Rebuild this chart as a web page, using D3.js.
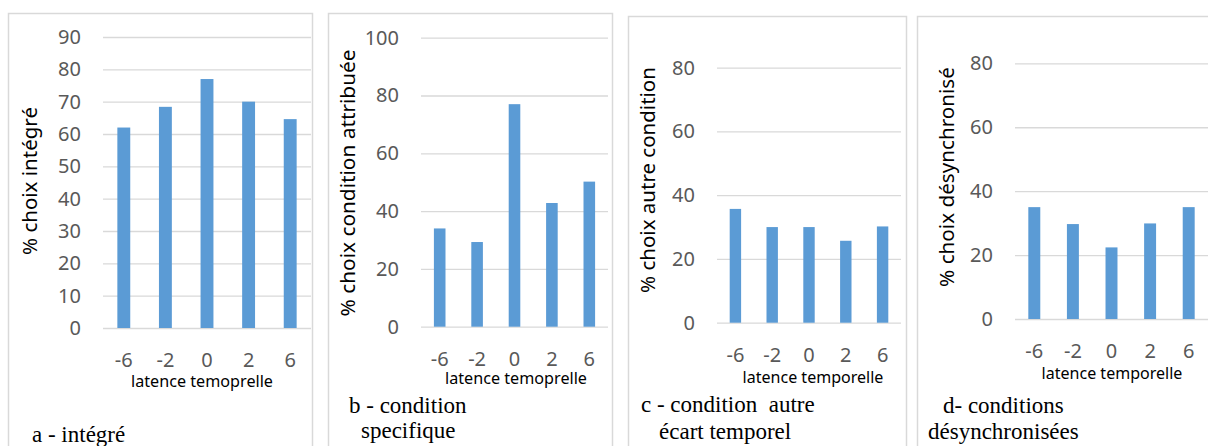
<!DOCTYPE html>
<html>
<head>
<meta charset="utf-8">
<script src="https://cdn.jsdelivr.net/npm/d3@7"></script>
<style>
  html, body { margin: 0; padding: 0; background: #fff; }
  svg { display: block; }
  .y.axis text, .x.axis text { fill: #595959; font-family: "Noto Sans", sans-serif; font-size: 20px; }
</style>
</head>
<body>
<svg width="1208" height="446"></svg>
<script>
// data
const categories = ["-6", "-2", "0", "2", "6"];
const valuesA = [62, 68.4, 77, 70, 64.6];
const valuesB = [34, 29.3, 77, 42.8, 50.2];
const valuesC = [35.7, 30, 30, 25.7, 30.2];
const valuesD = [35, 29.7, 22.4, 29.9, 35];
const ticksA = [0, 10, 20, 30, 40, 50, 60, 70, 80, 90];
const ticksB = [0, 20, 40, 60, 80, 100];
const ticksC = [0, 20, 40, 60, 80];
const ticksD = [0, 20, 40, 60, 80];
const yTitles = ["% choix intégré", "% choix condition attribuée", "% choix autre condition", "% choix désynchronisé"];
const xTitles = ["latence temoprelle", "latence temoprelle", "latence temporelle", "latence temporelle"];
const captions = [["a - intégré"], ["b - condition", "specifique"], ["c - condition  autre", "écart temporel"], ["d- conditions", "désynchronisées"]];

// layout of each panel (frame + plot area), yLen / xLen = wanted text lengths
const panels = [
  { values: valuesA, ticks: ticksA, frame: [8, 13, 304], left: 103, right: 311, top: 37, bottom: 328,
    yTitle: [30, 181], yLen: 148, xTitle: [202, 381], xLen: 142, cap: [[32, 442], [32, 467]] },
  { values: valuesB, ticks: ticksB, frame: [328, 13, 284], left: 421, right: 608, top: 37.7, bottom: 326.7,
    yTitle: [348, 183], yLen: 267, xTitle: [516, 378], xLen: 142, cap: [[349, 413], [361, 438]] },
  { values: valuesC, ticks: ticksC, frame: [628, 16, 278], left: 717, right: 901, top: 67.7, bottom: 322.7,
    yTitle: [648, 180], yLen: 226, xTitle: [813, 377.7], xLen: 141, cap: [[641, 412], [659, 439]] },
  { values: valuesD, ticks: ticksD, frame: [917, 16, 400], left: 1015, right: 1208, top: 63.3, bottom: 319,
    yTitle: [947, 177], yLen: 220, xTitle: [1112, 373], xLen: 141, cap: [[943, 413], [928, 439]] }
];

const svg = d3.select("svg");

// scale a text's font so it spans the wanted length
function fit(text, base, len) {
  text.attr("font-size", base + "px");
  const w = text.node().getComputedTextLength();
  text.attr("font-size", (base * len / w).toFixed(2) + "px");
}

panels.forEach((p, i) => {
  const g = svg.append("g").attr("class", "panel");

  // frame
  g.append("rect")
    .attr("x", p.frame[0] + 0.5)
    .attr("y", p.frame[1] + 0.5)
    .attr("width", p.frame[2])
    .attr("height", 500)
    .attr("fill", "none")
    .attr("stroke", "#d9d9d9")
    .attr("stroke-width", 1.5);

  const x = d3.scaleBand()
    .domain(categories)
    .range([p.left, p.right])
    .paddingInner(0.69)
    .paddingOuter(0.345);

  const y = d3.scaleLinear()
    .domain([0, d3.max(p.ticks)])
    .range([p.bottom, p.top]);

  // gridlines + y labels
  const leftAxis = d3.axisLeft(y)
    .tickValues(p.ticks)
    .tickSize(-(p.right - p.left))
    .tickPadding(22);
  g.append("g")
    .attr("class", "y axis")
    .attr("transform", `translate(${p.left},0)`)
    .call(leftAxis)
    .call(a => a.select(".domain").remove())
    .call(a => a.selectAll("line").attr("stroke", "#d9d9d9").attr("stroke-width", 1.3));

  // bars
  g.selectAll("rect.bar")
    .data(p.values)
    .join("rect")
    .attr("class", "bar")
    .attr("x", (d, j) => x(categories[j]))
    .attr("y", d => y(d))
    .attr("width", x.bandwidth())
    .attr("height", d => y(0) - y(d))
    .attr("fill", "#5b9bd5");

  // x labels
  const bottomAxis = d3.axisBottom(x).tickSize(0).tickPadding(25);
  g.append("g")
    .attr("class", "x axis")
    .attr("transform", `translate(0,${p.bottom})`)
    .call(bottomAxis)
    .call(a => a.select(".domain").remove());

  // y axis-label
  const yt = g.append("text")
    .attr("transform", `translate(${p.yTitle[0]},${p.yTitle[1]}) rotate(-90)`)
    .attr("text-anchor", "middle")
    .attr("dy", "0.35em")
    .attr("font-family", "Noto Sans, sans-serif")
    .attr("fill", "#000")
    .text(yTitles[i]);
  fit(yt, 20, p.yLen);

  // x axis-label
  const xt = g.append("text")
    .attr("x", p.xTitle[0])
    .attr("y", p.xTitle[1])
    .attr("dy", "0.35em")
    .attr("text-anchor", "middle")
    .attr("font-family", "Noto Sans, sans-serif")
    .attr("fill", "#000")
    .text(xTitles[i]);
  fit(xt, 15, p.xLen);

  // caption
  captions[i].forEach((line, k) => {
    g.append("text")
      .attr("x", p.cap[k][0])
      .attr("y", p.cap[k][1])
      .attr("font-family", "Liberation Serif, Times New Roman, serif")
      .attr("font-size", "23px")
      .attr("fill", "#000")
      .style("white-space", "pre")
      .text(line);
  });
});
</script>
</body>
</html>
